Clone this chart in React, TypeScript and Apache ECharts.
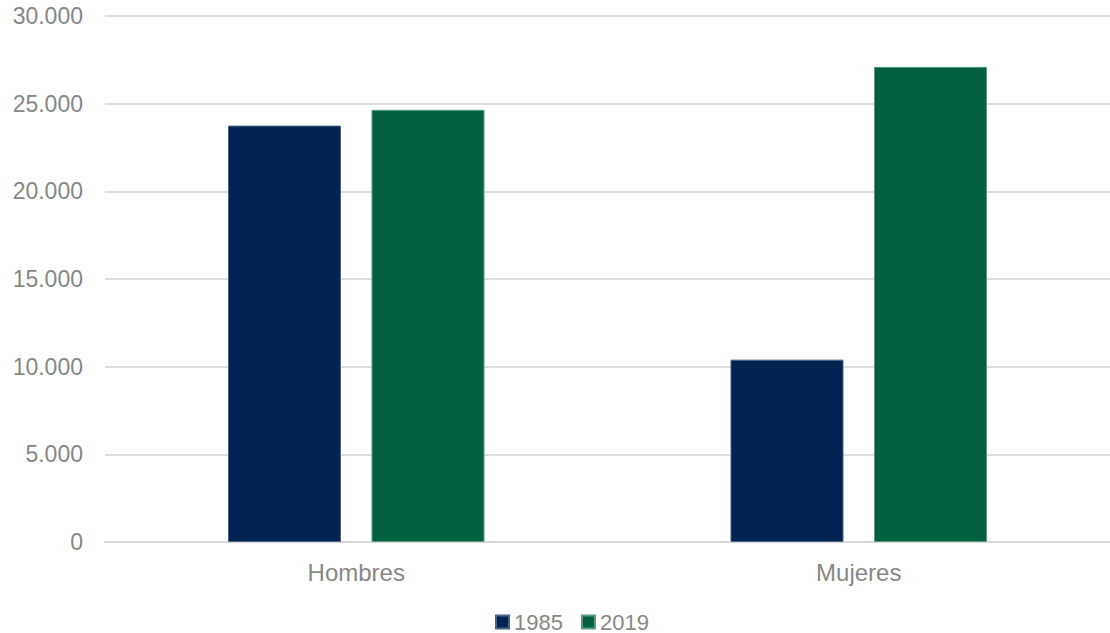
import React, { useEffect, useRef } from "react";
import * as echarts from "echarts";

const categories = ["Hombres", "Mujeres"];
const series1985 = [23750, 10400];
const series2019 = [24650, 27100];
const seriesNames = ["1985", "2019"];

export default function App() {
  const ref = useRef<HTMLDivElement>(null);
  useEffect(() => {
    if (!ref.current) return;
    const chart = echarts.init(ref.current, null, { renderer: "svg" });
    const font = "'Liberation Sans', Arial, sans-serif";
    chart.setOption({
      animation: false,
      textStyle: { fontFamily: font },
      grid: { left: 105, top: 16, width: 1012, height: 526, containLabel: false },
      legend: {
        data: seriesNames,
        left: 495,
        top: 611,
        padding: 0,
        itemWidth: 13,
        itemHeight: 13,
        itemGap: 18,
        icon: "rect",
        textStyle: { color: "#878787", fontSize: 22, lineHeight: 20, fontFamily: font },
      },
      xAxis: {
        type: "category",
        data: categories,
        axisLine: { show: true, lineStyle: { color: "#d9d9d9", width: 2 } },
        axisTick: { show: false },
        axisLabel: { color: "#878787", fontSize: 24, margin: 18, fontFamily: font },
      },
      yAxis: {
        type: "value",
        min: 0,
        max: 30000,
        interval: 5000,
        axisLine: { show: false },
        axisTick: { show: false },
        splitLine: { lineStyle: { color: "#dedede", width: 2 } },
        axisLabel: {
          color: "#878787",
          fontSize: 23,
          margin: 22,
          fontFamily: font,
          formatter: (v: number) => v.toLocaleString("de-DE"),
        },
      },
      series: [
        {
          name: seriesNames[0],
          type: "bar",
          data: series1985,
          barWidth: 113,
          barGap: "27%",
          itemStyle: { color: "#002452", borderColor: "#4a6386", borderWidth: 1 },
        },
        {
          name: seriesNames[1],
          type: "bar",
          data: series2019,
          barWidth: 113,
          barGap: "27%",
          itemStyle: { color: "#03603f", borderColor: "#5a9a80", borderWidth: 1 },
        },
      ],
    });
    return () => chart.dispose();
  }, []);
  return <div ref={ref} style={{ width: 1110, height: 633, position: "absolute", left: 0, top: 0 }} />;
}
